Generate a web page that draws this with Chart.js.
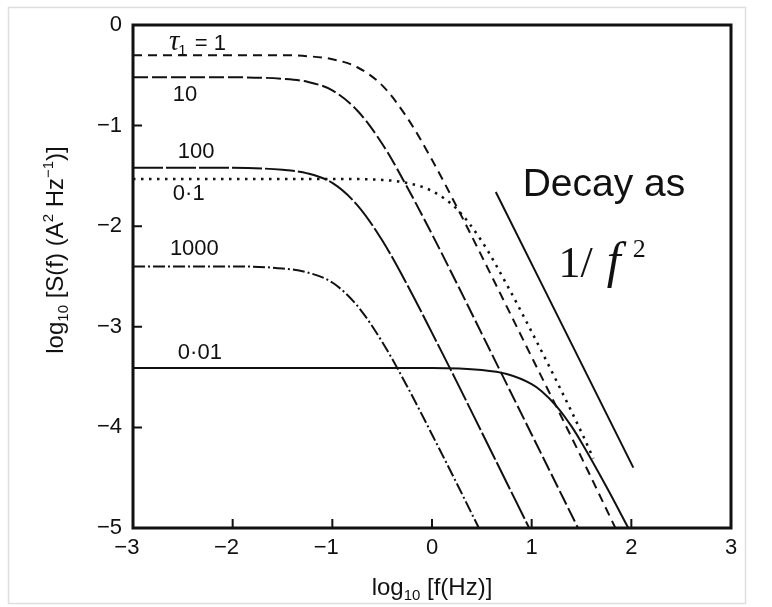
<!DOCTYPE html>
<html>
<head>
<meta charset="utf-8">
<script src="https://cdn.jsdelivr.net/npm/chart.js@4.4.0/dist/chart.umd.min.js"></script>
<style>
  html, body { margin: 0; padding: 0; background: #ffffff; }
  canvas { display: block; }
</style>
</head>
<body>
<canvas id="spectra" width="772" height="607"></canvas>
<script>
// Power spectra log10 S(f) against log10 f for several time constants tau1
const xTicks = [-3, -2, -1, 0, 1, 2, 3];
const yTicks = [-5, -4, -3, -2, -1, 0];
const curveNames = ['1', '10', '100', '0·1', '1000', '0·01'];

const tau1X = [-3, -2, -1.5, -1.25, -1, -0.75, -0.5, -0.25, 0, 0.25, 0.5, 1, 1.5, 1.84];
const tau1Y = [-0.30, -0.30, -0.30, -0.31, -0.34, -0.42, -0.60, -0.92, -1.34, -1.81, -2.30, -3.30, -4.30, -5.0];

const tau10X = [-3, -2, -1.5, -1.25, -1, -0.75, -0.5, -0.25, 0, 0.25, 0.5, 1, 1.465];
const tau10Y = [-0.52, -0.52, -0.535, -0.565, -0.65, -0.85, -1.18, -1.61, -2.08, -2.57, -3.07, -4.07, -5.0];

const tau100X = [-3, -2, -1.5, -1.25, -1, -0.75, -0.5, -0.25, 0, 0.25, 0.5, 0.975];
const tau100Y = [-1.42, -1.42, -1.44, -1.475, -1.57, -1.79, -2.14, -2.58, -3.06, -3.55, -4.05, -5.0];

const tau01X = [-3, -1, -0.5, -0.25, 0, 0.25, 0.5, 0.75, 1, 1.25, 1.5, 1.62];
const tau01Y = [-1.53, -1.53, -1.54, -1.57, -1.65, -1.83, -2.15, -2.58, -3.05, -3.54, -4.05, -4.31];

const tau1000X = [-3, -2, -1.5, -1.25, -1, -0.75, -0.5, -0.25, 0, 0.25, 0.47];
const tau1000Y = [-2.40, -2.40, -2.42, -2.46, -2.56, -2.79, -3.15, -3.59, -4.07, -4.56, -5.0];

const tau001X = [-3, 0, 0.5, 0.75, 1, 1.1, 1.25, 1.4, 1.5, 1.75, 1.97];
const tau001Y = [-3.41, -3.41, -3.43, -3.47, -3.57, -3.64, -3.79, -3.99, -4.15, -4.59, -5.0];

// reference slope of -2 (1/f^2)
const slopeX = [0.64, 2.02];
const slopeY = [-1.66, -4.40];

const INK = '#111111';
const SANS = "'Liberation Sans', Arial, sans-serif";
const SERIF = "'Liberation Serif', 'Times New Roman', serif";

function pts(xs, ys) { return xs.map((x, i) => ({ x: x, y: ys[i] })); }

function series(label, xs, ys, dash, width) {
  return {
    label: label,
    data: pts(xs, ys),
    borderColor: INK,
    borderWidth: width || 2,
    borderDash: dash,
    pointRadius: 0,
    fill: false,
    cubicInterpolationMode: 'monotone'
  };
}

// draws a run of text pieces with their own sizes, gaps and baseline shifts
function drawRich(ctx, pieces, x, y, align) {
  let total = 0;
  pieces.forEach(p => { ctx.font = p.font; total += ctx.measureText(p.t).width + (p.dx || 0); });
  let cx = align === 'center' ? x - total / 2 : x;
  ctx.textAlign = 'left';
  ctx.textBaseline = 'alphabetic';
  pieces.forEach(p => {
    ctx.font = p.font;
    cx += p.dx || 0;
    ctx.fillText(p.t, cx, y + (p.dy || 0));
    cx += ctx.measureText(p.t).width;
  });
}

const decorations = {
  id: 'decorations',
  beforeDraw(chart) {
    const ctx = chart.ctx;
    ctx.save();
    ctx.fillStyle = '#ffffff';
    ctx.fillRect(0, 0, chart.width, chart.height);
    ctx.strokeStyle = '#dedede';
    ctx.lineWidth = 1.5;
    ctx.strokeRect(8.5, 7.5, 737, 596);
    ctx.restore();
  },
  afterDraw(chart) {
    const ctx = chart.ctx;
    const a = chart.chartArea;
    const xs = chart.scales.x, ys = chart.scales.y;
    ctx.save();
    ctx.strokeStyle = INK;
    ctx.fillStyle = INK;

    // inward tick marks
    ctx.lineWidth = 2;
    ctx.beginPath();
    xTicks.slice(1, -1).forEach(v => {
      const px = xs.getPixelForValue(v);
      ctx.moveTo(px, a.bottom); ctx.lineTo(px, a.bottom - 9);
    });
    yTicks.slice(1, -1).forEach(v => {
      const py = ys.getPixelForValue(v);
      ctx.moveTo(a.left, py); ctx.lineTo(a.left + 9, py);
    });
    ctx.stroke();

    // plot frame
    ctx.lineWidth = 3;
    ctx.strokeRect(a.left, a.top, a.right - a.left, a.bottom - a.top);

    // curve labels
    const lx = v => xs.getPixelForValue(v);
    const ly = v => ys.getPixelForValue(v);
    const f22 = '22px ' + SANS;
    drawRich(ctx, [
      { t: 'τ', font: 'italic 29px ' + SERIF },
      { t: '1', font: '15px ' + SANS, dy: 5, dx: -1 },
      { t: ' = ' + curveNames[0], font: f22, dx: 2 }
    ], lx(-2.64), ly(-0.25), 'left');
    drawRich(ctx, [{ t: curveNames[1], font: f22 }], lx(-2.60), ly(-0.76), 'left');
    drawRich(ctx, [{ t: curveNames[2], font: f22 }], lx(-2.55), ly(-1.32), 'left');
    drawRich(ctx, [{ t: curveNames[3], font: f22 }], lx(-2.60), ly(-1.74), 'left');
    drawRich(ctx, [{ t: curveNames[4], font: f22 }], lx(-2.63), ly(-2.29), 'left');
    drawRich(ctx, [{ t: curveNames[5], font: f22 }], lx(-2.55), ly(-3.32), 'left');

    // slope annotation
    drawRich(ctx, [{ t: 'Decay as', font: '39px ' + SANS }], lx(0.91), ly(-1.70), 'left');
    drawRich(ctx, [
      { t: '1/', font: '44px ' + SERIF },
      { t: 'f', font: 'italic 50px ' + SERIF, dx: 14 },
      { t: '2', font: '26px ' + SERIF, dy: -20, dx: 12 }
    ], lx(1.27), ly(-2.50), 'left');

    // axis titles
    const big = '24px ' + SANS, small = '15px ' + SANS;
    drawRich(ctx, [
      { t: 'log', font: big },
      { t: '10', font: small, dy: 5 },
      { t: ' [f(Hz)]', font: big }
    ], (a.left + a.right) / 2, 595, 'center');

    ctx.translate(63, 250);
    ctx.rotate(-Math.PI / 2);
    drawRich(ctx, [
      { t: 'log', font: big },
      { t: '10', font: small, dy: 5 },
      { t: ' [S(f) (A', font: big },
      { t: '2', font: small, dy: -10 },
      { t: ' Hz', font: big },
      { t: '−1', font: small, dy: -10 },
      { t: ')]', font: big }
    ], 0, 0, 'center');
    ctx.restore();
  }
};

const minus = v => (v < 0 ? '\u2212' + Math.abs(v) : String(v));

new Chart(document.getElementById('spectra'), {
  type: 'line',
  data: {
    datasets: [
      series('1', tau1X, tau1Y, [9, 6]),
      series('10', tau10X, tau10Y, [15, 4]),
      series('100', tau100X, tau100Y, [30, 3]),
      series('0·1', tau01X, tau01Y, [2.5, 5.5], 2.5),
      series('1000', tau1000X, tau1000Y, [12, 3, 2, 3]),
      series('0·01', tau001X, tau001Y, []),
      series('slope', slopeX, slopeY, [])
    ]
  },
  options: {
    responsive: false,
    animation: false,
    events: [],
    layout: { padding: { top: 25, right: 41, bottom: 0, left: 0 } },
    plugins: { legend: { display: false }, tooltip: { enabled: false }, title: { display: false } },
    scales: {
      x: {
        type: 'linear',
        min: -3, max: 3,
        afterBuildTicks: s => { s.ticks = xTicks.map(v => ({ value: v })); },
        afterFit: s => { s.height = 79; },
        grid: { display: false, drawTicks: false },
        border: { display: false },
        ticks: {
          color: INK,
          font: { family: SANS, size: 22 },
          padding: 7,
          maxRotation: 0,
          callback: v => (v < 0 ? minus(v) + '\u2007' : String(v))
        }
      },
      y: {
        type: 'linear',
        min: -5, max: 0,
        afterBuildTicks: s => { s.ticks = yTicks.map(v => ({ value: v })); },
        afterFit: s => { s.width = 133; },
        grid: { display: false, drawTicks: false },
        border: { display: false },
        ticks: {
          color: INK,
          font: { family: SANS, size: 22 },
          padding: 11,
          callback: v => minus(v)
        }
      }
    }
  },
  plugins: [decorations]
});
</script>
</body>
</html>
